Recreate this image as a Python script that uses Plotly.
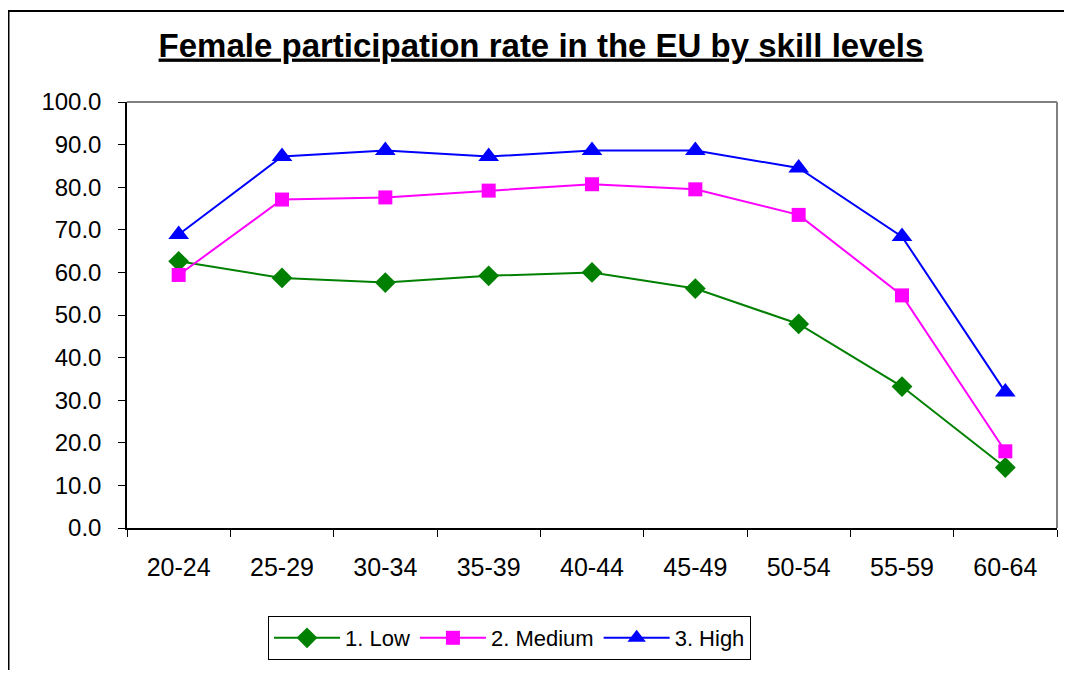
import plotly.graph_objects as go

age_groups = ["20-24", "25-29", "30-34", "35-39", "40-44", "45-49", "50-54", "55-59", "60-64"]
low = [62.6, 58.7, 57.6, 59.2, 60.0, 56.2, 47.9, 33.2, 14.2]
medium = [59.4, 77.1, 77.6, 79.2, 80.7, 79.5, 73.5, 54.6, 18.0]
high = [68.9, 87.2, 88.6, 87.2, 88.6, 88.6, 84.5, 68.4, 31.9]

# page body adds an 8px margin all round, so keep the figure inside the window
OFF = 8
W, H = 1072 - 2 * OFF, 678 - 2 * OFF
L, T = 127 - OFF, 102 - OFF
R = W - (1057 - OFF)
B = H - (528 - OFF)
pw, ph = W - L - R, H - T - B


def px_x(v):
    # v = x position in the screenshot
    return (v - OFF - L) / pw


def px_y(v):
    return (H - B - (v - OFF)) / ph


fig = go.Figure()
fig.add_trace(go.Scatter(x=age_groups, y=low, name="1. Low", mode="lines+markers",
                         line=dict(color="#008000", width=2),
                         marker=dict(symbol="diamond", size=16, color="#008000")))
fig.add_trace(go.Scatter(x=age_groups, y=medium, name="2. Medium", mode="lines+markers",
                         line=dict(color="#FF00FF", width=2),
                         marker=dict(symbol="square", size=14, color="#FF00FF")))
fig.add_trace(go.Scatter(x=age_groups, y=high, name="3. High", mode="lines+markers",
                         line=dict(color="#0000FF", width=2),
                         marker=dict(symbol="triangle-up", size=18, color="#0000FF")))

shapes = [
    # outer chart border, only top and left edge are in view
    dict(type="line", xref="paper", yref="paper",
         x0=px_x(8), x1=px_x(1072), y0=px_y(11), y1=px_y(11),
         line=dict(color="#000000", width=2)),
    dict(type="line", xref="paper", yref="paper",
         x0=px_x(8.5), x1=px_x(8.5), y0=px_y(11), y1=px_y(670),
         line=dict(color="#000000", width=2)),
    # plot area frame top/right in grey
    dict(type="line", xref="paper", yref="paper", x0=0, x1=1, y0=1, y1=1,
         line=dict(color="#808080", width=2)),
    dict(type="line", xref="paper", yref="paper", x0=1, x1=1, y0=0, y1=1,
         line=dict(color="#808080", width=2)),
]

fig.update_layout(
    width=W, height=H,
    margin=dict(l=L, r=R, t=T, b=B),
    paper_bgcolor="white", plot_bgcolor="white",
    font=dict(family="Liberation Sans, Arial, sans-serif", color="black", size=22),
    title=dict(text="<b><u>Female participation rate in the EU by skill levels</u></b>",
               x=(541 - OFF) / W, xanchor="center", y=1 - (45 - OFF) / H, yanchor="middle",
               xref="container", yref="container",
               font=dict(family="Liberation Sans, Arial, sans-serif", size=33, color="black")),
    xaxis=dict(type="category", range=[-0.5, 8.5], showline=True, linecolor="black", linewidth=1.5,
               ticks="outside", ticklen=7, tickcolor="black", tickson="boundaries",
               showgrid=False, zeroline=False, ticklabelstandoff=16,
               tickfont=dict(size=25)),
    yaxis=dict(range=[0, 100], dtick=10, tickformat=".1f", showline=True, linecolor="black",
               linewidth=1.5, ticks="outside", ticklen=7, tickcolor="black",
               showgrid=False, zeroline=False, ticklabelstandoff=12,
               tickfont=dict(size=24)),
    legend=dict(orientation="h", x=px_x(509.5), xanchor="center", y=px_y(638), yanchor="middle",
                bordercolor="black", borderwidth=1, bgcolor="white",
                font=dict(size=22), itemwidth=66),
    shapes=shapes,
    showlegend=True,
)

fig.write_html("out.html", config={"displayModeBar": False})
